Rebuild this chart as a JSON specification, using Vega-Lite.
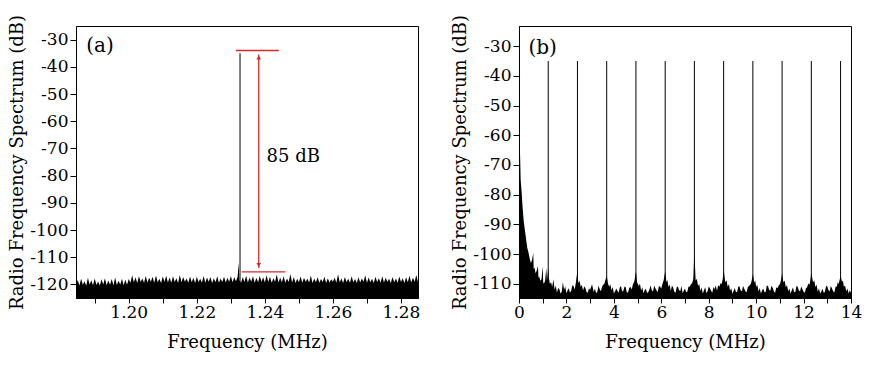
{
 "$schema": "https://vega.github.io/schema/vega-lite/v6.json",
 "background": "white",
 "padding": {"left": 8, "top": 13, "right": 5, "bottom": 5},
 "spacing": 30,
 "config": {
  "font": "DejaVu Serif",
  "view": {"stroke": "black", "strokeWidth": 1},
  "axis": {"grid": false, "domainColor": "black", "tickColor": "black", "tickSize": 6, "labelFont": "DejaVu Serif", "labelFontSize": 17, "labelColor": "black", "titleFont": "DejaVu Serif", "titleFontSize": 18, "titleFontWeight": "normal", "titleColor": "black", "labelPadding": 2, "labelFlush": false, "labelOverlap": false, "labelBound": false},
  "axisQuantitative": {"labelOverlap": false},
  "axisX": {"titlePadding": 13, "tickSize": 5, "labelPadding": 1},
  "axisY": {"titlePadding": 3}
 },
 "datasets": {
  "a": [
   {"f":1.1845,"d":-120.2},{"f":1.185,"d":-118.4},{"f":1.1855,"d":-120.4},{"f":1.186,"d":-117.9},{"f":1.1865,"d":-120.1},{"f":1.187,"d":-118.8},{"f":1.1875,"d":-120.5},{"f":1.188,"d":-117.6},{"f":1.1885,"d":-120.0},{"f":1.189,"d":-118.5},{"f":1.1895,"d":-120.3},{"f":1.19,"d":-117.8},{"f":1.1905,"d":-120.2},{"f":1.191,"d":-118.9},{"f":1.1915,"d":-120.4},{"f":1.192,"d":-118.1},{"f":1.1925,"d":-120.0},{"f":1.193,"d":-117.7},{"f":1.1935,"d":-120.3},{"f":1.194,"d":-118.6},{"f":1.1945,"d":-120.1},{"f":1.195,"d":-118.0},{"f":1.1955,"d":-120.4},{"f":1.196,"d":-117.5},{"f":1.1965,"d":-120.2},{"f":1.197,"d":-118.7},{"f":1.1975,"d":-120.0},{"f":1.198,"d":-117.9},{"f":1.1985,"d":-120.3},{"f":1.199,"d":-118.3},{"f":1.1995,"d":-120.1},{"f":1.2,"d":-118.0},
   {"f":1.2005,"d":-119.4},{"f":1.201,"d":-116.6},{"f":1.2015,"d":-119.2},{"f":1.202,"d":-117.4},{"f":1.2025,"d":-119.5},{"f":1.203,"d":-117.0},{"f":1.2035,"d":-119.1},{"f":1.204,"d":-117.8},{"f":1.2045,"d":-119.4},{"f":1.205,"d":-116.9},{"f":1.2055,"d":-119.3},{"f":1.206,"d":-117.6},{"f":1.2065,"d":-119.0},{"f":1.207,"d":-117.2},{"f":1.2075,"d":-119.4},{"f":1.208,"d":-116.7},{"f":1.2085,"d":-119.2},{"f":1.209,"d":-117.9},{"f":1.2095,"d":-119.5},{"f":1.21,"d":-117.1},{"f":1.2105,"d":-119.0},{"f":1.211,"d":-116.8},{"f":1.2115,"d":-119.3},{"f":1.212,"d":-117.5},{"f":1.2125,"d":-119.4},{"f":1.213,"d":-117.0},{"f":1.2135,"d":-119.1},{"f":1.214,"d":-117.7},{"f":1.2145,"d":-119.5},{"f":1.215,"d":-116.5},{"f":1.2155,"d":-119.2},{"f":1.216,"d":-117.3},{"f":1.2165,"d":-119.0},{"f":1.217,"d":-117.8},{"f":1.2175,"d":-119.4},{"f":1.218,"d":-117.1},{"f":1.2185,"d":-119.2},{"f":1.219,"d":-117.6},{"f":1.2195,"d":-119.5},{"f":1.22,"d":-117.2},{"f":1.2205,"d":-119.1},{"f":1.221,"d":-117.9},{"f":1.2215,"d":-119.3},{"f":1.222,"d":-116.9},{"f":1.2225,"d":-119.4},{"f":1.223,"d":-117.5},{"f":1.2235,"d":-119.0},{"f":1.224,"d":-117.3},{"f":1.2245,"d":-119.5},{"f":1.225,"d":-117.7},{"f":1.2255,"d":-119.2},{"f":1.226,"d":-117.0},{"f":1.2265,"d":-119.4},{"f":1.227,"d":-117.8},{"f":1.2275,"d":-119.1},{"f":1.228,"d":-117.2},{"f":1.2285,"d":-119.3},{"f":1.229,"d":-117.6},{"f":1.2295,"d":-119.0},{"f":1.23,"d":-116.9},{"f":1.2305,"d":-119.2},{"f":1.231,"d":-117.4},{"f":1.2315,"d":-118.8},{"f":1.232,"d":-117.2},{"f":1.2323,"d":-112.0},{"f":1.2325,"d":-118.5},
   {"f":1.233,"d":-119.4},{"f":1.2335,"d":-117.3},{"f":1.234,"d":-119.1},{"f":1.2345,"d":-116.8},{"f":1.235,"d":-119.3},{"f":1.2355,"d":-117.5},{"f":1.236,"d":-119.0},{"f":1.2365,"d":-117.0},{"f":1.237,"d":-119.4},{"f":1.2375,"d":-117.6},{"f":1.238,"d":-119.2},{"f":1.2385,"d":-116.9},{"f":1.239,"d":-119.0},{"f":1.2395,"d":-117.4},{"f":1.24,"d":-119.3},{"f":1.2405,"d":-116.6},{"f":1.241,"d":-119.1},{"f":1.2415,"d":-117.2},{"f":1.242,"d":-119.4},{"f":1.2425,"d":-117.7},{"f":1.243,"d":-119.0},{"f":1.2435,"d":-116.4},{"f":1.244,"d":-119.3},{"f":1.2445,"d":-117.5},{"f":1.245,"d":-119.2},{"f":1.2455,"d":-117.0},{"f":1.246,"d":-119.4},{"f":1.2465,"d":-117.8},{"f":1.247,"d":-119.1},{"f":1.2475,"d":-116.2},{"f":1.248,"d":-119.3},{"f":1.2485,"d":-117.3},{"f":1.249,"d":-119.5},{"f":1.2495,"d":-117.9},{"f":1.25,"d":-119.2},{"f":1.2505,"d":-117.1},{"f":1.251,"d":-119.4},{"f":1.2515,"d":-117.6},{"f":1.252,"d":-119.0},{"f":1.2525,"d":-117.9},{"f":1.253,"d":-119.3},{"f":1.2535,"d":-116.7},{"f":1.254,"d":-119.5},{"f":1.2545,"d":-117.8},{"f":1.255,"d":-119.2},{"f":1.2555,"d":-117.4},{"f":1.256,"d":-119.4},{"f":1.2565,"d":-118.0},{"f":1.257,"d":-119.1},{"f":1.2575,"d":-117.2},{"f":1.258,"d":-119.5},{"f":1.2585,"d":-117.7},{"f":1.259,"d":-119.3},{"f":1.2595,"d":-118.1},{"f":1.26,"d":-119.0},{"f":1.2605,"d":-117.5},{"f":1.261,"d":-119.4},{"f":1.2615,"d":-116.3},{"f":1.262,"d":-119.2},{"f":1.2625,"d":-117.8},{"f":1.263,"d":-119.5},{"f":1.2635,"d":-117.3},{"f":1.264,"d":-119.1},{"f":1.2645,"d":-117.9},{"f":1.265,"d":-119.4},{"f":1.2655,"d":-117.0},{"f":1.266,"d":-119.2},{"f":1.2665,"d":-118.0},{"f":1.267,"d":-119.5},{"f":1.2675,"d":-117.4},{"f":1.268,"d":-119.3},{"f":1.2685,"d":-117.8},{"f":1.269,"d":-119.0},{"f":1.2695,"d":-116.6},{"f":1.27,"d":-119.4},{"f":1.2705,"d":-117.5},{"f":1.271,"d":-119.2},{"f":1.2715,"d":-117.9},{"f":1.272,"d":-119.5},{"f":1.2725,"d":-117.2},{"f":1.273,"d":-119.1},{"f":1.2735,"d":-117.7},{"f":1.274,"d":-119.4},{"f":1.2745,"d":-117.0},{"f":1.275,"d":-119.3},{"f":1.2755,"d":-117.6},{"f":1.276,"d":-119.0},{"f":1.2765,"d":-117.9},{"f":1.277,"d":-119.5},{"f":1.2775,"d":-117.3},{"f":1.278,"d":-119.2},{"f":1.2785,"d":-117.8},{"f":1.279,"d":-119.4},{"f":1.2795,"d":-117.1},{"f":1.28,"d":-119.1},{"f":1.2805,"d":-117.7},{"f":1.281,"d":-119.5},{"f":1.2815,"d":-117.4},{"f":1.282,"d":-119.2},{"f":1.2825,"d":-116.8},{"f":1.283,"d":-119.3},{"f":1.2835,"d":-117.6},{"f":1.284,"d":-119.0},{"f":1.2845,"d":-116.5},{"f":1.285,"d":-119.2}
  ],
  "b": [
   {"f":0,"d":-62.5},{"f":0.03,"d":-63},{"f":0.05,"d":-68},{"f":0.07,"d":-75},{"f":0.1,"d":-78},{"f":0.12,"d":-80},{"f":0.14,"d":-83},{"f":0.17,"d":-86},{"f":0.2,"d":-89},{"f":0.25,"d":-92},{"f":0.3,"d":-95},{"f":0.35,"d":-98},{"f":0.4,"d":-99.5},{"f":0.45,"d":-101.5},{"f":0.5,"d":-103},{"f":0.55,"d":-102},{"f":0.6,"d":-99.6},{"f":0.62,"d":-105},{"f":0.65,"d":-104.5},{"f":0.7,"d":-106.5},{"f":0.75,"d":-105.5},{"f":0.8,"d":-104},{"f":0.82,"d":-108},{"f":0.85,"d":-107.5},{"f":0.9,"d":-109},{"f":0.95,"d":-108.5},{"f":1.0,"d":-104},{"f":1.02,"d":-109.5},{"f":1.05,"d":-110},{"f":1.1,"d":-109},{"f":1.15,"d":-104.7},{"f":1.18,"d":-109},{"f":1.2,"d":-107.5},{"f":1.2327,"d":-104.5},{"f":1.26,"d":-108},{"f":1.3,"d":-110},{"f":1.35,"d":-109.5},{"f":1.4,"d":-111},{"f":1.45,"d":-108.5},{"f":1.5,"d":-112},{"f":1.55,"d":-110.6},{"f":1.6,"d":-113},{"f":1.65,"d":-111.4},{"f":1.7,"d":-111.8},{"f":1.75,"d":-113.3},{"f":1.8,"d":-112.8},{"f":1.85,"d":-109.5},{"f":1.9,"d":-112},{"f":1.95,"d":-110.9},{"f":2.0,"d":-113.2},{"f":2.05,"d":-112.2},{"f":2.1,"d":-111.5},{"f":2.15,"d":-113},{"f":2.2,"d":-112.4},{"f":2.25,"d":-110.5},{"f":2.3,"d":-110.8},{"f":2.35,"d":-111.9},{"f":2.4,"d":-109.5},{"f":2.465,"d":-105.7},{"f":2.5,"d":-109.8},{"f":2.55,"d":-108.9},{"f":2.6,"d":-111},{"f":2.65,"d":-110.4},{"f":2.7,"d":-112.3},{"f":2.75,"d":-110.9},{"f":2.8,"d":-111.4},{"f":2.85,"d":-112.8},{"f":2.9,"d":-113},{"f":2.95,"d":-111.5},{"f":3.0,"d":-112},{"f":3.08,"d":-110.2},{"f":3.15,"d":-112.8},{"f":3.2,"d":-111.6},{"f":3.25,"d":-113.1},{"f":3.3,"d":-112.9},{"f":3.35,"d":-110.7},{"f":3.4,"d":-111.8},{"f":3.45,"d":-112.5},{"f":3.5,"d":-111},{"f":3.55,"d":-110.3},{"f":3.6,"d":-110},{"f":3.65,"d":-108.6},{"f":3.698,"d":-107.2},{"f":3.75,"d":-109.8},{"f":3.8,"d":-111},{"f":3.85,"d":-110.2},{"f":3.9,"d":-112.2},{"f":3.95,"d":-111.1},{"f":4.0,"d":-113.2},{"f":4.05,"d":-112.6},{"f":4.1,"d":-111.6},{"f":4.15,"d":-112.4},{"f":4.2,"d":-113},{"f":4.25,"d":-111.3},{"f":4.3,"d":-110.8},{"f":4.35,"d":-112.6},{"f":4.4,"d":-112.4},{"f":4.45,"d":-110.9},{"f":4.5,"d":-111.2},{"f":4.55,"d":-113},{"f":4.6,"d":-112.9},{"f":4.65,"d":-111.4},{"f":4.7,"d":-111},{"f":4.75,"d":-111.9},{"f":4.8,"d":-110.3},{"f":4.87,"d":-109},{"f":4.931,"d":-105.8},{"f":4.98,"d":-109.5},{"f":5.05,"d":-110.8},{"f":5.1,"d":-110},{"f":5.15,"d":-112.3},{"f":5.2,"d":-111.2},{"f":5.25,"d":-113.2},{"f":5.3,"d":-112.1},{"f":5.35,"d":-111.7},{"f":5.4,"d":-113.1},{"f":5.45,"d":-112.9},{"f":5.5,"d":-111.9},{"f":5.55,"d":-110.6},{"f":5.6,"d":-112.2},{"f":5.65,"d":-112.6},{"f":5.7,"d":-110.7},{"f":5.75,"d":-111.5},{"f":5.8,"d":-112.3},{"f":5.85,"d":-112.8},{"f":5.9,"d":-110.8},{"f":5.95,"d":-111},{"f":6.0,"d":-111.6},{"f":6.05,"d":-110},{"f":6.1,"d":-108.8},{"f":6.164,"d":-105.8},{"f":6.22,"d":-109.5},{"f":6.26,"d":-108.7},{"f":6.3,"d":-111},{"f":6.35,"d":-110.3},{"f":6.4,"d":-112.4},{"f":6.45,"d":-110.6},{"f":6.5,"d":-111.3},{"f":6.55,"d":-112.7},{"f":6.6,"d":-113},{"f":6.65,"d":-111.2},{"f":6.7,"d":-110.9},{"f":6.75,"d":-112.1},{"f":6.8,"d":-112.5},{"f":6.85,"d":-110.8},{"f":6.9,"d":-113.2},{"f":6.95,"d":-112.3},{"f":7.0,"d":-111.6},{"f":7.05,"d":-112.9},{"f":7.1,"d":-112.6},{"f":7.15,"d":-110.9},{"f":7.2,"d":-111},{"f":7.25,"d":-110.2},{"f":7.3,"d":-109.8},{"f":7.35,"d":-108.4},{"f":7.396,"d":-99.6},{"f":7.45,"d":-109},{"f":7.5,"d":-108.3},{"f":7.55,"d":-110.8},{"f":7.6,"d":-110.1},{"f":7.65,"d":-112.4},{"f":7.7,"d":-111.3},{"f":7.75,"d":-113.3},{"f":7.8,"d":-112.2},{"f":7.85,"d":-111.2},{"f":7.9,"d":-113.1},{"f":7.95,"d":-112.6},{"f":8.0,"d":-110.9},{"f":8.05,"d":-111.5},{"f":8.1,"d":-112.4},{"f":8.15,"d":-113},{"f":8.2,"d":-111.1},{"f":8.25,"d":-111.8},{"f":8.3,"d":-110.6},{"f":8.35,"d":-112.4},{"f":8.4,"d":-110.5},{"f":8.45,"d":-111},{"f":8.5,"d":-109.8},{"f":8.55,"d":-110},{"f":8.59,"d":-108.5},{"f":8.629,"d":-105.3},{"f":8.7,"d":-109.5},{"f":8.75,"d":-108.8},{"f":8.8,"d":-111},{"f":8.85,"d":-110.2},{"f":8.9,"d":-112.3},{"f":8.95,"d":-111.5},{"f":9.0,"d":-113.4},{"f":9.05,"d":-112.4},{"f":9.1,"d":-111.4},{"f":9.15,"d":-112.9},{"f":9.2,"d":-112.7},{"f":9.25,"d":-110.9},{"f":9.3,"d":-110.9},{"f":9.35,"d":-112.3},{"f":9.4,"d":-112.5},{"f":9.45,"d":-110.8},{"f":9.5,"d":-111.7},{"f":9.55,"d":-112.5},{"f":9.6,"d":-112.9},{"f":9.65,"d":-111.1},{"f":9.7,"d":-110.8},{"f":9.78,"d":-110},{"f":9.82,"d":-108.6},{"f":9.862,"d":-106.7},{"f":9.92,"d":-109.6},{"f":9.96,"d":-108.9},{"f":10.0,"d":-111},{"f":10.05,"d":-110.4},{"f":10.1,"d":-112.6},{"f":10.15,"d":-111.4},{"f":10.2,"d":-113.3},{"f":10.25,"d":-112.3},{"f":10.3,"d":-111.6},{"f":10.35,"d":-112.9},{"f":10.4,"d":-112.8},{"f":10.45,"d":-110.6},{"f":10.5,"d":-110.8},{"f":10.55,"d":-112.1},{"f":10.6,"d":-112.3},{"f":10.65,"d":-110.7},{"f":10.7,"d":-111.4},{"f":10.75,"d":-112.6},{"f":10.8,"d":-113},{"f":10.85,"d":-111.2},{"f":10.9,"d":-111.5},{"f":10.95,"d":-110.6},{"f":11.0,"d":-110.2},{"f":11.05,"d":-108.7},{"f":11.094,"d":-106.5},{"f":11.15,"d":-109.6},{"f":11.2,"d":-108.9},{"f":11.25,"d":-111.2},{"f":11.3,"d":-110.4},{"f":11.35,"d":-112.5},{"f":11.4,"d":-111.6},{"f":11.45,"d":-113.3},{"f":11.5,"d":-112.3},{"f":11.55,"d":-111.3},{"f":11.6,"d":-112.8},{"f":11.65,"d":-112.9},{"f":11.7,"d":-110.8},{"f":11.75,"d":-111},{"f":11.8,"d":-112.2},{"f":11.85,"d":-112.6},{"f":11.9,"d":-110.9},{"f":11.95,"d":-111.8},{"f":12.0,"d":-112.7},{"f":12.05,"d":-113},{"f":12.1,"d":-111.5},{"f":12.15,"d":-111.2},{"f":12.2,"d":-109.9},{"f":12.25,"d":-110.3},{"f":12.29,"d":-108.6},{"f":12.327,"d":-106.3},{"f":12.4,"d":-109.5},{"f":12.45,"d":-108.8},{"f":12.5,"d":-111.1},{"f":12.55,"d":-110.3},{"f":12.6,"d":-112.7},{"f":12.65,"d":-111.5},{"f":12.7,"d":-113.4},{"f":12.75,"d":-112.5},{"f":12.8,"d":-111.7},{"f":12.85,"d":-113},{"f":12.9,"d":-112.8},{"f":12.95,"d":-110.7},{"f":13.0,"d":-110.9},{"f":13.05,"d":-112.2},{"f":13.1,"d":-112.5},{"f":13.15,"d":-110.8},{"f":13.2,"d":-111.6},{"f":13.25,"d":-112.6},{"f":13.3,"d":-112.9},{"f":13.35,"d":-110.9},{"f":13.4,"d":-111},{"f":13.44,"d":-109.6},{"f":13.48,"d":-110},{"f":13.52,"d":-108.7},{"f":13.56,"d":-107.2},{"f":13.62,"d":-109.4},{"f":13.66,"d":-108.9},{"f":13.7,"d":-111},{"f":13.75,"d":-110.6},{"f":13.8,"d":-112.5},{"f":13.85,"d":-111.6},{"f":13.9,"d":-113.3},{"f":13.95,"d":-112.2},{"f":14.0,"d":-113}
  ],
  "pa": [{"f":1.2327,"d":-35,"d2":-125}],
  "pb": [{"f":1.2327,"d":-35,"d2":-114.8},{"f":2.465,"d":-35,"d2":-114.8},{"f":3.698,"d":-35,"d2":-114.8},{"f":4.931,"d":-35,"d2":-114.8},{"f":6.164,"d":-35,"d2":-114.8},{"f":7.396,"d":-35,"d2":-114.8},{"f":8.629,"d":-35,"d2":-114.8},{"f":9.862,"d":-35,"d2":-114.8},{"f":11.094,"d":-35,"d2":-114.8},{"f":12.327,"d":-35,"d2":-114.8},{"f":13.56,"d":-35,"d2":-114.8}],
  "marks": [{"f":1.2315,"f2":1.2441,"d":-34},{"f":1.2332,"f2":1.246,"d":-115.4}],
  "arrow": [{"f":1.2382,"d":-35.5,"d2":-114}],
  "headTop": [{"f":1.2382,"d":-35.5}],
  "headBot": [{"f":1.2382,"d":-114}],
  "labA": [{"f":1.1875,"d":-32.5,"t":"(a)"}],
  "labDb": [{"f":1.2405,"d":-73,"t":"85 dB"}],
  "labB": [{"f":0.4,"d":-30.5,"t":"(b)"}]
 },
 "hconcat": [
  {
   "width": 342,
   "height": 272,
   "encoding": {
    "x": {"field": "f", "type": "quantitative", "scale": {"domain": [1.1845, 1.285], "nice": false, "zero": false}, "axis": {"title": "Frequency (MHz)", "labelOverlap": false, "values": [1.19,1.2,1.21,1.22,1.23,1.24,1.25,1.26,1.27,1.28], "labelExpr": "round(datum.value*100) % 2 == 0 ? format(datum.value, '.2f') : ''"}},
    "y": {"field": "d", "type": "quantitative", "scale": {"domain": [-125, -25], "nice": false, "zero": false}, "axis": {"title": "Radio Frequency Spectrum (dB)", "labelOverlap": false, "values": [-120,-110,-100,-90,-80,-70,-60,-50,-40,-30], "labelExpr": "'' + datum.value"}}
   },
   "layer": [
    {
     "data": {"name": "a"},
     "mark": {"type": "area", "color": "black", "clip": true},
     "encoding": {"y2": {"datum": -125}}
    },
    {
     "data": {"name": "pa"},
     "mark": {"type": "rule", "color": "black", "strokeWidth": 1},
     "encoding": {"y2": {"field": "d2"}}
    },
    {
     "data": {"name": "marks"},
     "mark": {"type": "rule", "color": "#d42a2a", "strokeWidth": 1.3},
     "encoding": {"x2": {"field": "f2"}}
    },
    {
     "data": {"name": "arrow"},
     "mark": {"type": "rule", "color": "#d42a2a", "strokeWidth": 1.3},
     "encoding": {"y2": {"field": "d2"}}
    },
    {
     "data": {"name": "headTop"},
     "mark": {"type": "point", "shape": "triangle-up", "filled": true, "color": "#d42a2a", "size": 22, "yOffset": 3, "opacity": 1}
    },
    {
     "data": {"name": "headBot"},
     "mark": {"type": "point", "shape": "triangle-down", "filled": true, "color": "#d42a2a", "size": 22, "yOffset": -3, "opacity": 1}
    },
    {
     "data": {"name": "labDb"},
     "mark": {"type": "text", "font": "DejaVu Serif", "fontSize": 18, "align": "left", "baseline": "middle", "color": "black"},
     "encoding": {"text": {"field": "t"}}
    },
    {
     "data": {"name": "labA"},
     "mark": {"type": "text", "font": "DejaVu Serif", "fontSize": 20, "align": "left", "baseline": "middle", "color": "black"},
     "encoding": {"text": {"field": "t"}}
    }
   ]
  },
  {
   "width": 332,
   "height": 272,
   "encoding": {
    "x": {"field": "f", "type": "quantitative", "scale": {"domain": [0, 14], "nice": false, "zero": false}, "axis": {"title": "Frequency (MHz)", "labelOverlap": false, "values": [0,1,2,3,4,5,6,7,8,9,10,11,12,13,14], "labelExpr": "datum.value % 2 == 0 ? '' + datum.value : ''"}},
    "y": {"field": "d", "type": "quantitative", "scale": {"domain": [-114.8, -23.2], "nice": false, "zero": false}, "axis": {"title": "Radio Frequency Spectrum (dB)", "labelOverlap": false, "values": [-110,-100,-90,-80,-70,-60,-50,-40,-30], "labelExpr": "'' + datum.value"}}
   },
   "layer": [
    {
     "data": {"name": "b"},
     "mark": {"type": "area", "color": "black", "clip": true},
     "encoding": {"y2": {"datum": -114.8}}
    },
    {
     "data": {"name": "pb"},
     "mark": {"type": "rule", "color": "black", "strokeWidth": 1},
     "encoding": {"y2": {"field": "d2"}}
    },
    {
     "data": {"name": "labB"},
     "mark": {"type": "text", "font": "DejaVu Serif", "fontSize": 20, "align": "left", "baseline": "middle", "color": "black"},
     "encoding": {"text": {"field": "t"}}
    }
   ]
  }
 ]
}
